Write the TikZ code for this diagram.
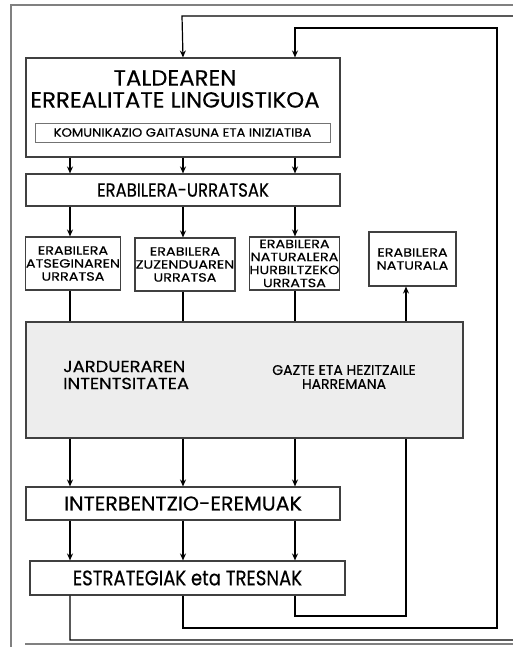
\documentclass[tikz,border=0pt]{standalone}
\usepackage{fontspec}
\setmainfont{Poppins}[FakeBold=0.4]
\usetikzlibrary{arrows.meta}
\newcommand{\fs}[3]{\fontsize{#1}{#2}\selectfont\addfontfeatures{FakeStretch=#3}}
\begin{document}
\begin{tikzpicture}[x=1pt,y=-1pt,
  box/.style={draw=black!75,line width=1.1pt,fill=white,inner sep=0pt,align=center},
  conn/.style={draw=black,line width=1.2pt},
  arr/.style={conn,-{Stealth[length=7pt,width=6pt]}},
  frame/.style={draw=black!50,line width=1.6pt},
  small/.style={font=\fs{12}{13}{1.2},align=center}]
\useasboundingbox (0,0) rectangle (512,647);
\fill[white] (0,0) rectangle (512,647);
% frame
\draw[frame] (11,647) -- (11,5) -- (520,5);
\draw[frame] (25,644) -- (520,644);
% column coordinates
\coordinate (c1) at (70,0);
\coordinate (c2) at (183,0);
\coordinate (c3) at (295,0);
\coordinate (c4) at (406,0);
% boxes
\node[box,minimum width=314pt,minimum height=99pt] (tal) at (183,107.5) {};
\node[font=\fs{22}{22}{1.04},align=center] (taltxt) at (175,89) {TALDEAREN\\ERREALITATE LINGUISTIKOA};
\node[box,draw=black!55,line width=0.8pt,minimum width=295pt,minimum height=19pt,font=\fs{12}{13}{1.1}] (kom) at (182.5,132.5) {KOMUNIKAZIO GAITASUNA ETA INIZIATIBA};
\node[box,minimum width=314pt,minimum height=32pt,font=\fs{19}{20}{0.87}] (erab) at (183,190) {ERABILERA-URRATSAK};
\node[box,minimum width=94pt,minimum height=53pt,small] (b1) at (73,263.5) {ERABILERA\\ATSEGINAREN\\URRATSA};
\node[box,minimum width=100pt,minimum height=53pt,small] (b2) at (185,264.5) {ERABILERA\\ZUZENDUAREN\\URRATSA};
\node[box,minimum width=87pt,minimum height=53pt,small] (b3) at (294.5,263.5) {ERABILERA\\NATURALERA\\HURBILTZEKO\\URRATSA};
\node[box,minimum width=87pt,minimum height=54pt,small] (b4) at (412.5,259) {ERABILERA\\NATURALA};
\node[box,fill=black!7,minimum width=437pt,minimum height=116pt] (gray) at (244.5,380) {};
\node[font=\fs{16}{17}{1.12},align=left,anchor=west,inner sep=0pt] (jard) at (63,375) {JARDUERAREN\\INTENTSITATEA};
\node[font=\fs{14}{14}{1.0},align=center] (gazte) at (344,377) {GAZTE ETA HEZITZAILE\\HARREMANA};
\node[box,minimum width=314pt,minimum height=33pt,font=\fs{20}{20}{1.03}] (inter) at (183,503.5) {INTERBENTZIO-EREMUAK};
\node[box,minimum width=315pt,minimum height=34pt,font=\fs{21}{22}{0.86}] (estr) at (187.5,578) {ESTRATEGIAK eta TRESNAK};
% arrows
\foreach \c in {c1,c2,c3}{
  \draw[arr] (tal.south -| \c) -- (erab.north -| \c);
  \draw[arr] (gray.south -| \c) -- (inter.north -| \c);
  \draw[arr] (inter.south -| \c) -- (estr.north -| \c);
}
\draw[arr] (erab.south -| c1) -- (b1.north -| c1);
\draw[arr] (erab.south -| c2) -- (b2.north -| c2);
\draw[arr] (erab.south -| c3) -- (b3.north -| c3);
\draw[conn] (b1.south -| c1) -- (gray.north -| c1);
\draw[conn] (b2.south -| c2) -- (gray.north -| c2);
\draw[conn] (b3.south -| c3) -- (gray.north -| c3);
\draw[arr] (gray.north -| c4) -- (b4.south -| c4);
% feedback loops
\draw[arr] (estr.south -| c1) -- (70,640) -- (530,640) -- (530,16) -- (182,16) -- (tal.north -| c2);
\draw[arr] (estr.south -| c2) -- (183,628) -- (497,628) -- (497,28) -- (295,28) -- (tal.north -| c3);
\draw[conn] (estr.south -| c3) -- (295,616) -- (406,616) -- (gray.south -| c4);
\end{tikzpicture}
\end{document}
